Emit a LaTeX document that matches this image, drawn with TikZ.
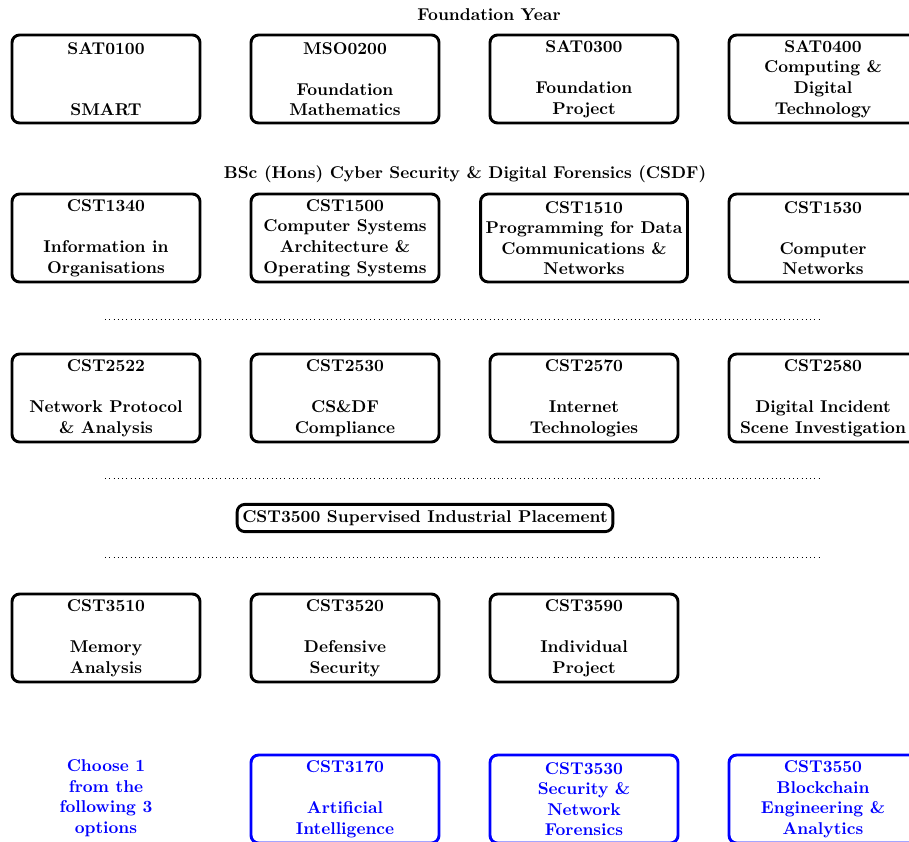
\documentclass[tikz,border=0pt]{standalone}
\begin{document}
\begin{tikzpicture}[x=0.585pt,y=-0.585pt,
  every node/.style={font=\bfseries\fontsize{10}{12}\selectfont},
  course/.style={draw, line width=1.7pt, rounded corners=4.5pt, align=center,
    minimum width=110pt, minimum height=51.5pt, inner sep=3pt},
  optcourse/.style={course, draw=blue, text=blue},
  heading/.style={inner sep=0pt},
  sep/.style={dotted, line width=0.5pt}]
\useasboundingbox (0,0) rectangle (909,841);

\node[heading] (fy) at (489,15) {Foundation Year};
\node[course] (s1) at (106,79) {SAT0100\\ \\ \\ SMART};
\node[course] (s2) at (345,79) {MSO0200\\ \\ Foundation\\ Mathematics};
\node[course] (s3) at (584,79) {SAT0300\\ \\ Foundation\\ Project};
\node[course] (s4) at (823,79) {SAT0400\\ Computing \&\\ Digital\\ Technology};

\node[heading] (bsc) at (465,174) {BSc (Hons) Cyber Security \& Digital Forensics (CSDF)};
\node[course] (a1) at (106,238) {CST1340\\ \\ Information in\\ Organisations};
\node[course] (a2) at (345,238) {CST1500\\ Computer Systems\\ Architecture \&\\ Operating Systems};
\node[course] (a3) at (584,238) {CST1510\\ Programming for Data\\ Communications \&\\ Networks};
\node[course] (a4) at (823,238) {CST1530\\ \\ Computer\\ Networks};

\coordinate (d1a) at (105,319); \coordinate (d1b) at (822,319);
\draw[sep] (d1a) -- (d1b);

\node[course] (b1) at (106,398) {CST2522\\ \\ Network Protocol\\ \& Analysis};
\node[course] (b2) at (345,398) {CST2530\\ \\ CS\&DF\\ Compliance};
\node[course] (b3) at (584,398) {CST2570\\ \\ Internet\\ Technologies};
\node[course] (b4) at (823,398) {CST2580\\ \\ Digital Incident\\ Scene Investigation};

\coordinate (d2a) at (105,478); \coordinate (d2b) at (822,478);
\draw[sep] (d2a) -- (d2b);

\node[draw, line width=1.7pt, rounded corners=4.5pt, inner xsep=3pt, inner ysep=3.5pt] (pl) at (425,518) {CST3500 Supervised Industrial Placement};

\coordinate (d3a) at (105,557); \coordinate (d3b) at (822,557);
\draw[sep] (d3a) -- (d3b);

\node[course] (c1) at (106,638) {CST3510\\ \\ Memory\\ Analysis};
\node[course] (c2) at (345,638) {CST3520\\ \\ Defensive\\ Security};
\node[course] (c3) at (584,638) {CST3590\\ \\ Individual\\ Project};

\node[align=center, text=blue, inner sep=0pt] (ch) at (106,798) {Choose 1\\ from the\\ following 3\\ options};
\node[optcourse] (o1) at (345,799) {CST3170\\ \\ Artificial\\ Intelligence};
\node[optcourse] (o2) at (584,799) {CST3530\\ Security \&\\ Network\\ Forensics};
\node[optcourse] (o3) at (823,799) {CST3550\\ Blockchain\\ Engineering \&\\ Analytics};
\end{tikzpicture}
\end{document}
